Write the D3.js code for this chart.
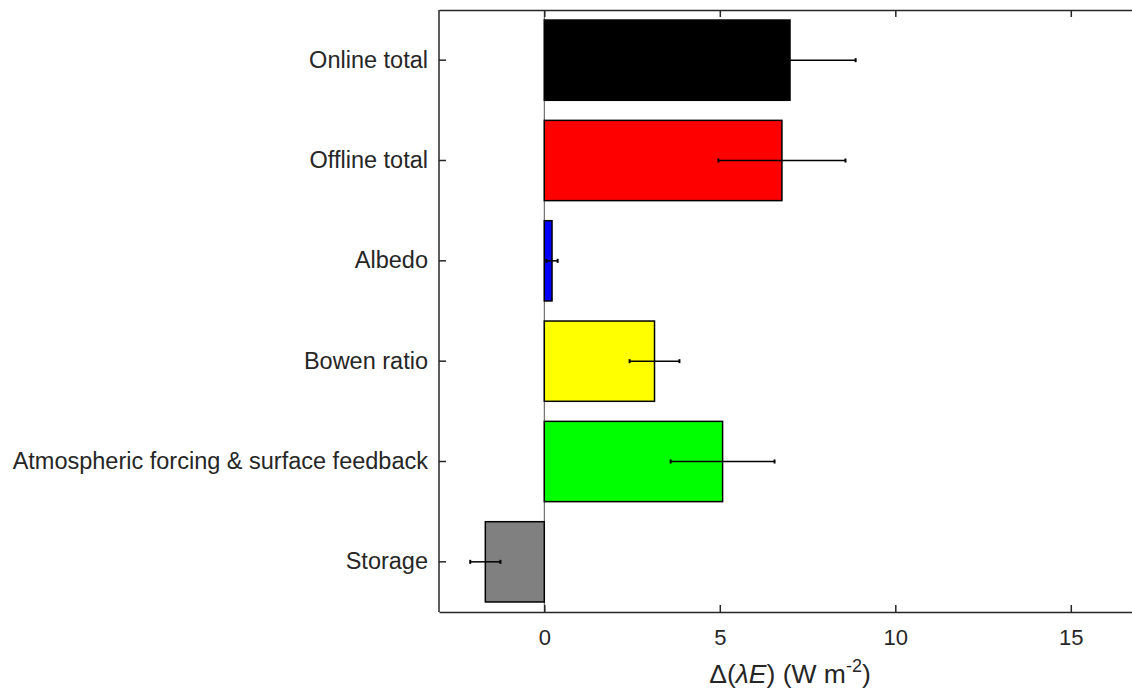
<html><head><title>Delta lambda E decomposition</title>
<style>
    body { margin: 0; background: #fff; }
    text { font-family: 'Liberation Sans', Arial, sans-serif; fill: #262626; }
</style>
</head>
<body>
<svg id="chart" width="1132" height="694"></svg>
<script src="https://d3js.org/d3.v7.min.js"></script>
<script>
    // categories from top to bottom
    const categories = ["Online total", "Offline total", "Albedo", "Bowen ratio",
        "Atmospheric forcing & surface feedback", "Storage"];
    const values = [7.0, 6.77, 0.22, 3.14, 5.08, -1.68];
    const errors = [1.87, 1.81, 0.16, 0.71, 1.48, 0.43];
    const colors = ["#000000", "#ff0000", "#0000ff", "#ffff00", "#00ff00", "#808080"];
    const xTicks = [0, 5, 10, 15];

    const plotLeft = 439, plotTop = 10, plotBottom = 612, plotRight = 1141;
    const ink = "#262626";

    const svg = d3.select("#chart");

    const x = d3.scaleLinear().domain([-3, 17]).range([plotLeft, plotRight]);
    const y = d3.scaleBand().domain(categories).range([plotTop, plotBottom])
        .paddingInner(0.2).paddingOuter(0.1);

    // zero line
    svg.append("line")
        .attr("x1", x(0)).attr("x2", x(0))
        .attr("y1", plotTop).attr("y2", plotBottom)
        .attr("stroke", ink).attr("stroke-width", 0.8);

    // bars
    svg.selectAll("rect.bar")
        .data(categories)
        .join("rect")
        .attr("class", "bar")
        .attr("x", (d, i) => x(Math.min(0, values[i])))
        .attr("width", (d, i) => Math.abs(x(values[i]) - x(0)))
        .attr("y", d => y(d))
        .attr("height", y.bandwidth())
        .attr("fill", (d, i) => colors[i])
        .attr("stroke", "#000")
        .attr("stroke-width", 1.5);

    // error bars
    const eb = svg.selectAll("g.err")
        .data(categories)
        .join("g")
        .attr("class", "err")
        .attr("transform", d => `translate(0,${y(d) + y.bandwidth() / 2})`);
    eb.append("line")
        .attr("x1", (d, i) => x(values[i] - errors[i]))
        .attr("x2", (d, i) => x(values[i] + errors[i]))
        .attr("stroke", "#000").attr("stroke-width", 1.5);
    eb.append("line")
        .attr("x1", (d, i) => x(values[i] - errors[i]))
        .attr("x2", (d, i) => x(values[i] - errors[i]))
        .attr("y1", -2).attr("y2", 2)
        .attr("stroke", "#000").attr("stroke-width", 2);
    eb.append("line")
        .attr("x1", (d, i) => x(values[i] + errors[i]))
        .attr("x2", (d, i) => x(values[i] + errors[i]))
        .attr("y1", -2).attr("y2", 2)
        .attr("stroke", "#000").attr("stroke-width", 2);

    // axes
    const xAxis = svg.append("g")
        .attr("transform", `translate(0,${plotBottom})`)
        .call(d3.axisBottom(x).tickValues(xTicks).tickSizeInner(-7).tickSizeOuter(0).tickPadding(17));
    const xTop = svg.append("g")
        .attr("transform", `translate(0,${plotTop})`)
        .call(d3.axisTop(x).tickValues(xTicks).tickSizeInner(-7).tickSizeOuter(0).tickFormat(""));
    const yAxis = svg.append("g")
        .attr("transform", `translate(${plotLeft},0)`)
        .call(d3.axisLeft(y).tickSizeInner(-7).tickSizeOuter(0).tickPadding(11));

    [xAxis, xTop, yAxis].forEach(g => {
        g.select(".domain").attr("stroke", ink).attr("stroke-width", 1.5);
        g.selectAll(".tick line").attr("stroke", ink).attr("stroke-width", 1.5);
        g.selectAll(".tick text").attr("fill", ink);
    });
    yAxis.selectAll(".tick text").style("font-size", "23.5px");
    xAxis.selectAll(".tick text").style("font-size", "22px");
    yAxis.select(".domain").attr("d", `M0,${plotTop}V${plotBottom}`);

    // x label
    const label = svg.append("text")
        .attr("x", (plotLeft + plotRight) / 2)
        .attr("y", 683)
        .attr("text-anchor", "middle")
        .style("font-size", "26.5px");
    label.append("tspan").text("\u0394(");
    label.append("tspan").style("font-style", "italic").text("\u03bbE");
    label.append("tspan").text(") (W m");
    label.append("tspan").attr("dy", -11).style("font-size", "18px").text("-2");
    label.append("tspan").attr("dy", 11).text(")");
</script>
</body>
</html>
